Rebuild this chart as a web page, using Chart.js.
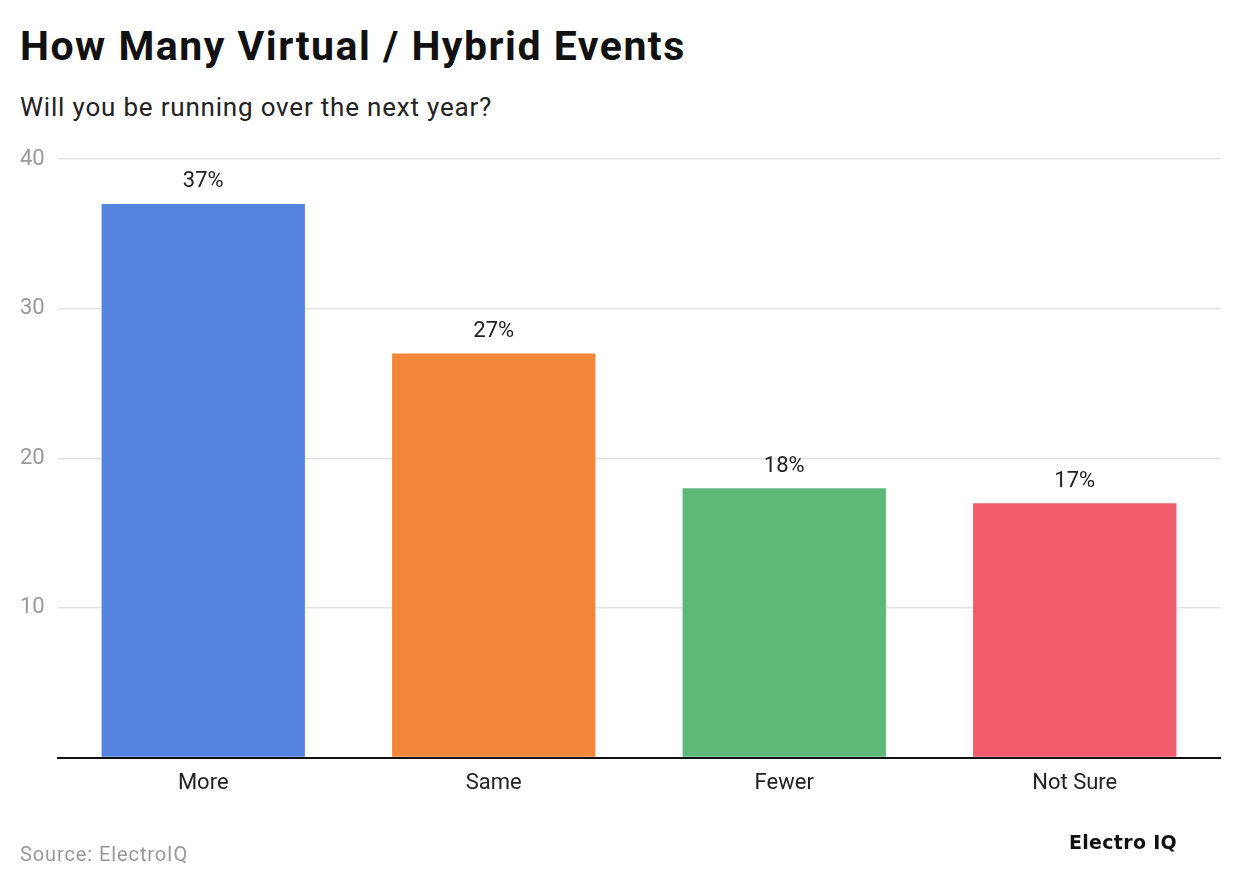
<!DOCTYPE html>
<html>
<head>
<meta charset="utf-8">
<script src="https://cdn.jsdelivr.net/npm/chart.js@4"></script>
<style>
  body { margin: 0; background: #fff; font-family: Roboto, sans-serif; }
  #wrap { position: relative; width: 1240px; height: 888px; }
  .t { position: absolute; white-space: nowrap; }
  #title { left: 20px; top: 22px; font-size: 41px; font-weight: 700; color: #111; letter-spacing: 1.5px; }
  #sub { left: 20px; top: 92px; font-size: 26px; color: #222; letter-spacing: 0.8px; }
  #src { left: 20px; top: 842px; font-size: 20px; color: #999; letter-spacing: 0.9px; }
  #logo { left: 1069px; top: 831px; font-size: 19px; font-weight: 900; color: #111; font-family: "DejaVu Sans", sans-serif; letter-spacing: 0.3px; }
  canvas { position: absolute; left: 0; top: 0; }
</style>
</head>
<body>
<div id="wrap">
  <div class="t" id="title">How Many Virtual / Hybrid Events</div>
  <div class="t" id="sub">Will you be running over the next year?</div>
  <canvas class="chart" width="1240" height="888"></canvas>
  <div class="t" id="src">Source: ElectroIQ</div>
  <div class="t" id="logo">Electro IQ</div>
</div>
<script>
const categories = ['More', 'Same', 'Fewer', 'Not Sure'];
const shares = [37, 27, 18, 17];
const barColors = ['#5484E0', '#F28739', '#5EB978', '#F25C6A'];
const yTicks = [0, 10, 20, 30, 40];

// value labels above each bar
const valueLabels = {
  id: 'valueLabels',
  afterDatasetsDraw(chart) {
    const {ctx} = chart;
    const meta = chart.getDatasetMeta(0);
    ctx.save();
    ctx.font = '22px Roboto';
    ctx.fillStyle = '#222';
    ctx.textAlign = 'center';
    ctx.textBaseline = 'middle';
    meta.data.forEach((bar, i) => {
      ctx.fillText(shares[i] + '%', bar.x, bar.y - 22);
    });
    ctx.restore();
  }
};

const config = {
  type: 'bar',
  data: {
    labels: categories,
    datasets: [{
      data: shares,
      backgroundColor: barColors,
      barPercentage: 0.7,
      categoryPercentage: 1
    }]
  },
  options: {
    responsive: false,
    animation: false,
    layout: { padding: { left: 20, right: 20, top: 159, bottom: 86 } },
    plugins: { legend: { display: false }, tooltip: { enabled: false } },
    scales: {
      x: {
        grid: { display: false },
        border: { display: true, color: '#111', width: 2 },
        ticks: { color: '#222', font: { family: 'Roboto', size: 22 }, padding: 5 }
      },
      y: {
        min: 0,
        max: 40,
        afterBuildTicks(scale) { scale.ticks = yTicks.map(v => ({value: v})); },
        afterFit(scale) { scale.width = 38; },
        grid: { color: '#e3e3e3', lineWidth: 1.5, drawTicks: false },
        border: { display: false },
        ticks: {
          crossAlign: 'far',
          padding: 0,
          color: '#999',
          font: { family: 'Roboto', size: 22 },
          callback: v => v === 0 ? '' : v
        }
      }
    }
  },
  plugins: [valueLabels]
};

const myChart = new Chart(document.querySelector('.chart'), config);
</script>
</body>
</html>
